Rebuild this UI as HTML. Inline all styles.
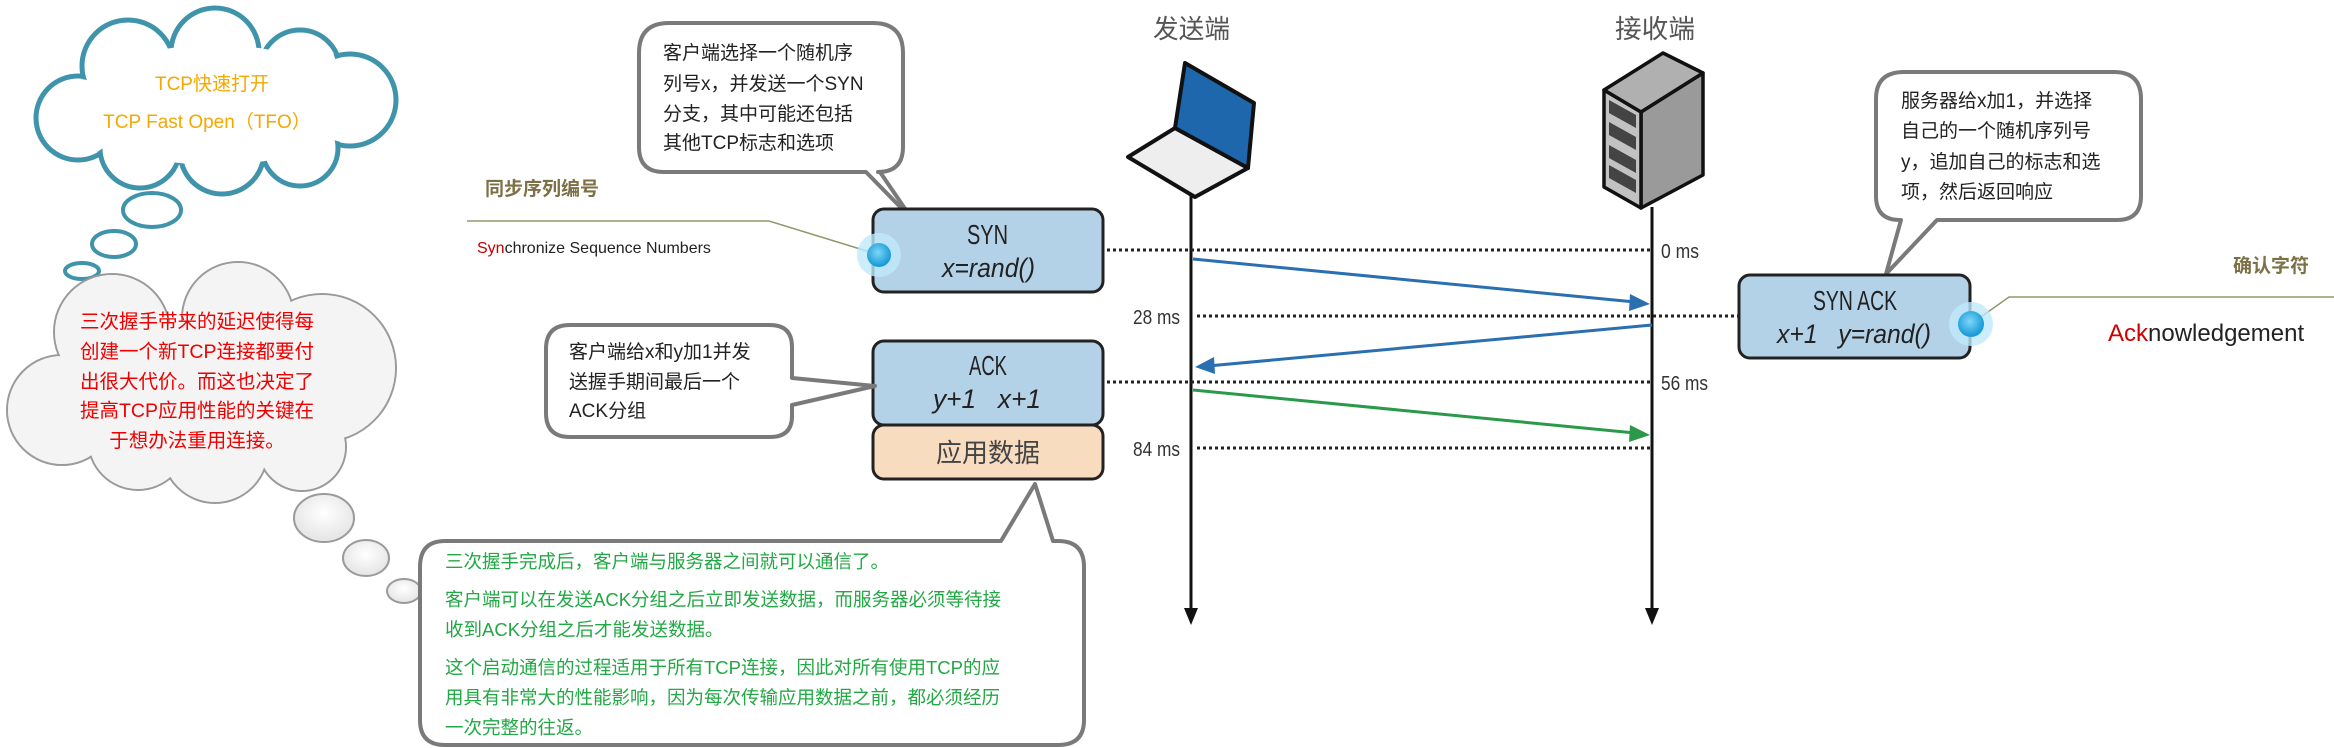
<!DOCTYPE html>
<html><head><meta charset="utf-8"><style>
html,body{margin:0;padding:0;background:#fff;}
svg{display:block;}
text{font-family:"Liberation Sans","Noto Sans CJK SC",sans-serif;}
.n{font-family:"Liberation Sans Narrow","Liberation Sans","Noto Sans CJK SC",sans-serif;}
</style></head><body>
<svg width="2334" height="748" viewBox="0 0 2334 748" xmlns="http://www.w3.org/2000/svg">
<defs>
<radialGradient id="gc" cx="50%" cy="40%" r="60%"><stop offset="0" stop-color="#ffffff"/><stop offset="1" stop-color="#e4e4e4"/></radialGradient>
<radialGradient id="dot" cx="45%" cy="40%" r="55%"><stop offset="0" stop-color="#7fd6f7"/><stop offset="1" stop-color="#1a9bd8"/></radialGradient>
</defs>

<!-- Top teal cloud -->
<g stroke="#3f93ab" stroke-width="5" fill="#fff">
<circle cx="78" cy="118" r="42"/><circle cx="128" cy="66" r="46"/><circle cx="215" cy="52" r="44"/>
<circle cx="300" cy="70" r="40"/><circle cx="350" cy="100" r="46"/><circle cx="300" cy="148" r="38"/>
<circle cx="222" cy="152" r="42"/><circle cx="140" cy="148" r="40"/>
</g>
<g fill="#fff">
<circle cx="78" cy="118" r="39"/><circle cx="128" cy="66" r="43"/><circle cx="215" cy="52" r="41"/>
<circle cx="300" cy="70" r="37"/><circle cx="350" cy="100" r="43"/><circle cx="300" cy="148" r="35"/>
<circle cx="222" cy="152" r="39"/><circle cx="140" cy="148" r="37"/><ellipse cx="215" cy="105" rx="140" ry="60"/>
</g>
<text x="212" y="90" font-size="19" fill="#f5a800" text-anchor="middle">TCP快速打开</text>
<text x="207" y="128" font-size="19" fill="#f5a800" text-anchor="middle">TCP Fast Open（TFO）</text>
<g stroke="#3f93ab" stroke-width="4" fill="#fff">
<ellipse cx="152" cy="210" rx="29" ry="17"/><ellipse cx="114" cy="244" rx="22" ry="13"/><ellipse cx="82" cy="271" rx="17" ry="8"/>
</g>

<!-- Gray cloud -->
<g stroke="#9a9a9a" stroke-width="2" fill="url(#gc)">
<circle cx="62" cy="410" r="55"/><circle cx="112" cy="332" r="58"/><circle cx="238" cy="318" r="56"/>
<circle cx="322" cy="368" r="74"/><circle cx="302" cy="447" r="44"/><circle cx="215" cy="450" r="53"/>
<circle cx="138" cy="440" r="50"/>
</g>
<g fill="#f4f4f4">
<circle cx="62" cy="410" r="54"/><circle cx="112" cy="332" r="57"/><circle cx="238" cy="318" r="55"/>
<circle cx="322" cy="368" r="73"/><circle cx="302" cy="447" r="43"/><circle cx="215" cy="450" r="52"/>
<circle cx="138" cy="440" r="49"/><ellipse cx="200" cy="390" rx="140" ry="70"/>
</g>
<g font-size="19.5" fill="#f00000" text-anchor="middle">
<text x="197" y="328">三次握手带来的延迟使得每</text>
<text x="197" y="358">创建一个新TCP连接都要付</text>
<text x="197" y="388">出很大代价。而这也决定了</text>
<text x="197" y="417">提高TCP应用性能的关键在</text>
<text x="197" y="447">于想办法重用连接。</text>
</g>
<g stroke="#9a9a9a" stroke-width="2" fill="url(#gc)">
<ellipse cx="324" cy="518" rx="30" ry="24"/><ellipse cx="366" cy="558" rx="23" ry="18"/><ellipse cx="404" cy="591" rx="17" ry="12"/>
</g>

<!-- Sync label -->
<text x="485" y="195" font-size="19" font-weight="bold" fill="#7b7046">同步序列编号</text>
<polyline points="467,221 769,221 870,252" fill="none" stroke="#8f9a6a" stroke-width="1.5"/>
<text x="477" y="253" font-size="16" fill="#222"><tspan fill="#c00000">Syn</tspan>chronize Sequence Numbers</text>

<!-- Top-left speech bubble -->
<path d="M669,23 H873 Q903,23 903,53 V147 Q903,172 878,172 H880 L912,219 L866,172 H664 Q639,172 639,147 V53 Q639,23 669,23 Z" fill="#fff" stroke="#7a7a7a" stroke-width="4" stroke-linejoin="round"/>
<g font-size="19" fill="#222">
<text x="663" y="59">客户端选择一个随机序</text>
<text x="663" y="90">列号x，并发送一个SYN</text>
<text x="663" y="120">分支，其中可能还包括</text>
<text x="663" y="149">其他TCP标志和选项</text>
</g>

<!-- Labels top -->
<text x="1153" y="38" font-size="26" fill="#555" textLength="77" lengthAdjust="spacingAndGlyphs">发送端</text>
<text x="1615" y="38" font-size="26" fill="#555" textLength="80" lengthAdjust="spacingAndGlyphs">接收端</text>

<!-- Laptop -->
<g stroke="#111" stroke-width="4" stroke-linejoin="round">
<polygon points="1128,157 1175,128 1248,168 1195,197" fill="#eee"/>
<polygon points="1175,128 1185,63 1254,103 1248,168" fill="#1f67ad"/>
</g>
<!-- Server -->
<g stroke="#111" stroke-width="3.5" stroke-linejoin="round">
<polygon points="1641,112 1703,73 1703,175 1641,208" fill="#9a9a9a"/>
<polygon points="1604,90 1641,112 1641,208 1604,187" fill="#c2c2c2"/>
<polygon points="1604,90 1663,53 1703,73 1641,112" fill="#b0b0b0"/>
</g>
<g fill="#444">
<polygon points="1609,100 1636,115 1636,128 1609,113"/>
<polygon points="1609,122 1636,137 1636,150 1609,135"/>
<polygon points="1609,145 1636,160 1636,173 1609,158"/>
<polygon points="1609,165 1636,180 1636,193 1609,178"/>
</g>

<!-- Lifelines -->
<line x1="1191" y1="196" x2="1191" y2="612" stroke="#111" stroke-width="3"/>
<polygon points="1184,608 1198,608 1191,625" fill="#111"/>
<line x1="1652" y1="207" x2="1652" y2="612" stroke="#111" stroke-width="3"/>
<polygon points="1645,608 1659,608 1652,625" fill="#111"/>

<!-- Dotted lines -->
<g stroke="#222" stroke-width="3" stroke-dasharray="3,3">
<line x1="1107" y1="250" x2="1650" y2="250"/>
<line x1="1197" y1="316" x2="1740" y2="316"/>
<line x1="1107" y1="382" x2="1650" y2="382"/>
<line x1="1197" y1="448" x2="1650" y2="448"/>
</g>
<g font-size="20" fill="#333">
<text x="1661" y="258" textLength="38" lengthAdjust="spacingAndGlyphs">0 ms</text>
<text x="1133" y="324" textLength="47" lengthAdjust="spacingAndGlyphs">28 ms</text>
<text x="1661" y="390" textLength="47" lengthAdjust="spacingAndGlyphs">56 ms</text>
<text x="1133" y="456" textLength="47" lengthAdjust="spacingAndGlyphs">84 ms</text>
</g>

<!-- Message arrows -->
<line x1="1193" y1="259" x2="1635" y2="302" stroke="#2a6fb0" stroke-width="3"/>
<polygon points="1650,304 1630,294 1629,311" fill="#2a6fb0"/>
<line x1="1652" y1="325" x2="1208" y2="366" stroke="#2a6fb0" stroke-width="3"/>
<polygon points="1195,367 1214,357 1215,374" fill="#2a6fb0"/>
<line x1="1193" y1="390" x2="1635" y2="433" stroke="#2a9a4a" stroke-width="3"/>
<polygon points="1650,435 1630,425 1629,442" fill="#2a9a4a"/>

<!-- SYN box -->
<rect x="873" y="209" width="230" height="83" rx="11" fill="#b4d2e7" stroke="#222" stroke-width="3"/>
<text x="967" y="244" font-size="28" fill="#222" textLength="41" lengthAdjust="spacingAndGlyphs">SYN</text>
<text x="942" y="277" font-size="27" fill="#222" font-style="italic" textLength="93" lengthAdjust="spacingAndGlyphs">x=rand()</text>
<circle cx="879" cy="255" r="22" fill="#bfe9fb" opacity="0.8"/>
<circle cx="879" cy="255" r="12" fill="url(#dot)"/>

<!-- ACK box -->
<rect x="873" y="341" width="230" height="84" rx="11" fill="#b4d2e7" stroke="#222" stroke-width="3"/>
<text x="969" y="375" font-size="28" fill="#222" textLength="38" lengthAdjust="spacingAndGlyphs">ACK</text>
<text x="933" y="408" font-size="27" fill="#222" font-style="italic" textLength="108" lengthAdjust="spacingAndGlyphs" xml:space="preserve">y+1   x+1</text>
<rect x="873" y="425" width="230" height="54" rx="11" fill="#f8dcc0" stroke="#222" stroke-width="3"/>
<text x="988" y="462" font-size="26" fill="#444" text-anchor="middle">应用数据</text>

<!-- ACK speech bubble -->
<path d="M570,325 H770 Q792,325 792,347 V378 L875,386 L792,405 V416 Q792,437 770,437 H570 Q546,437 546,413 V349 Q546,325 570,325 Z" fill="#fff" stroke="#7a7a7a" stroke-width="4" stroke-linejoin="round"/>
<g font-size="19" fill="#222">
<text x="569" y="358">客户端给x和y加1并发</text>
<text x="569" y="388">送握手期间最后一个</text>
<text x="569" y="417">ACK分组</text>
</g>

<!-- Bottom speech bubble -->
<path d="M445,541 H1001 L1035,484 L1053,541 H1058 Q1084,541 1084,567 V720 Q1084,745 1058,745 H445 Q420,745 420,720 V567 Q420,541 445,541 Z" fill="#fff" stroke="#7a7a7a" stroke-width="4" stroke-linejoin="round"/>
<g font-size="18.5" fill="#22a844">
<text x="445" y="568">三次握手完成后，客户端与服务器之间就可以通信了。</text>
<text x="445" y="606">客户端可以在发送ACK分组之后立即发送数据，而服务器必须等待接</text>
<text x="445" y="636">收到ACK分组之后才能发送数据。</text>
<text x="445" y="674">这个启动通信的过程适用于所有TCP连接，因此对所有使用TCP的应</text>
<text x="445" y="704">用具有非常大的性能影响，因为每次传输应用数据之前，都必须经历</text>
<text x="445" y="734">一次完整的往返。</text>
</g>

<!-- Right speech bubble -->
<path d="M1904,72 H2114 Q2141,72 2141,99 V196 Q2141,220 2117,220 H1937 L1886,274 L1901,220 H1900 Q1876,220 1876,196 V99 Q1876,72 1904,72 Z" fill="#fff" stroke="#7a7a7a" stroke-width="4" stroke-linejoin="round"/>
<g font-size="19" fill="#222">
<text x="1901" y="107">服务器给x加1，并选择</text>
<text x="1901" y="137">自己的一个随机序列号</text>
<text x="1901" y="168">y，追加自己的标志和选</text>
<text x="1901" y="198">项，然后返回响应</text>
</g>

<!-- SYN ACK box -->
<rect x="1739" y="275" width="231" height="83" rx="11" fill="#b4d2e7" stroke="#222" stroke-width="3"/>
<text x="1813" y="310" font-size="28" fill="#222" textLength="84" lengthAdjust="spacingAndGlyphs">SYN ACK</text>
<text x="1777" y="343" font-size="27" fill="#222" font-style="italic" textLength="154" lengthAdjust="spacingAndGlyphs" xml:space="preserve">x+1   y=rand()</text>
<polyline points="1971,324 2009,297 2334,297" fill="none" stroke="#8f9a6a" stroke-width="1.5"/>
<circle cx="1971" cy="324" r="22" fill="#bfe9fb" opacity="0.8"/>
<circle cx="1971" cy="324" r="13" fill="url(#dot)"/>
<text x="2233" y="272" font-size="19" font-weight="bold" fill="#7b7046">确认字符</text>
<text x="2108" y="341" font-size="24" fill="#222"><tspan fill="#d00000">Ack</tspan>nowledgement</text>
</svg>
</body></html>
